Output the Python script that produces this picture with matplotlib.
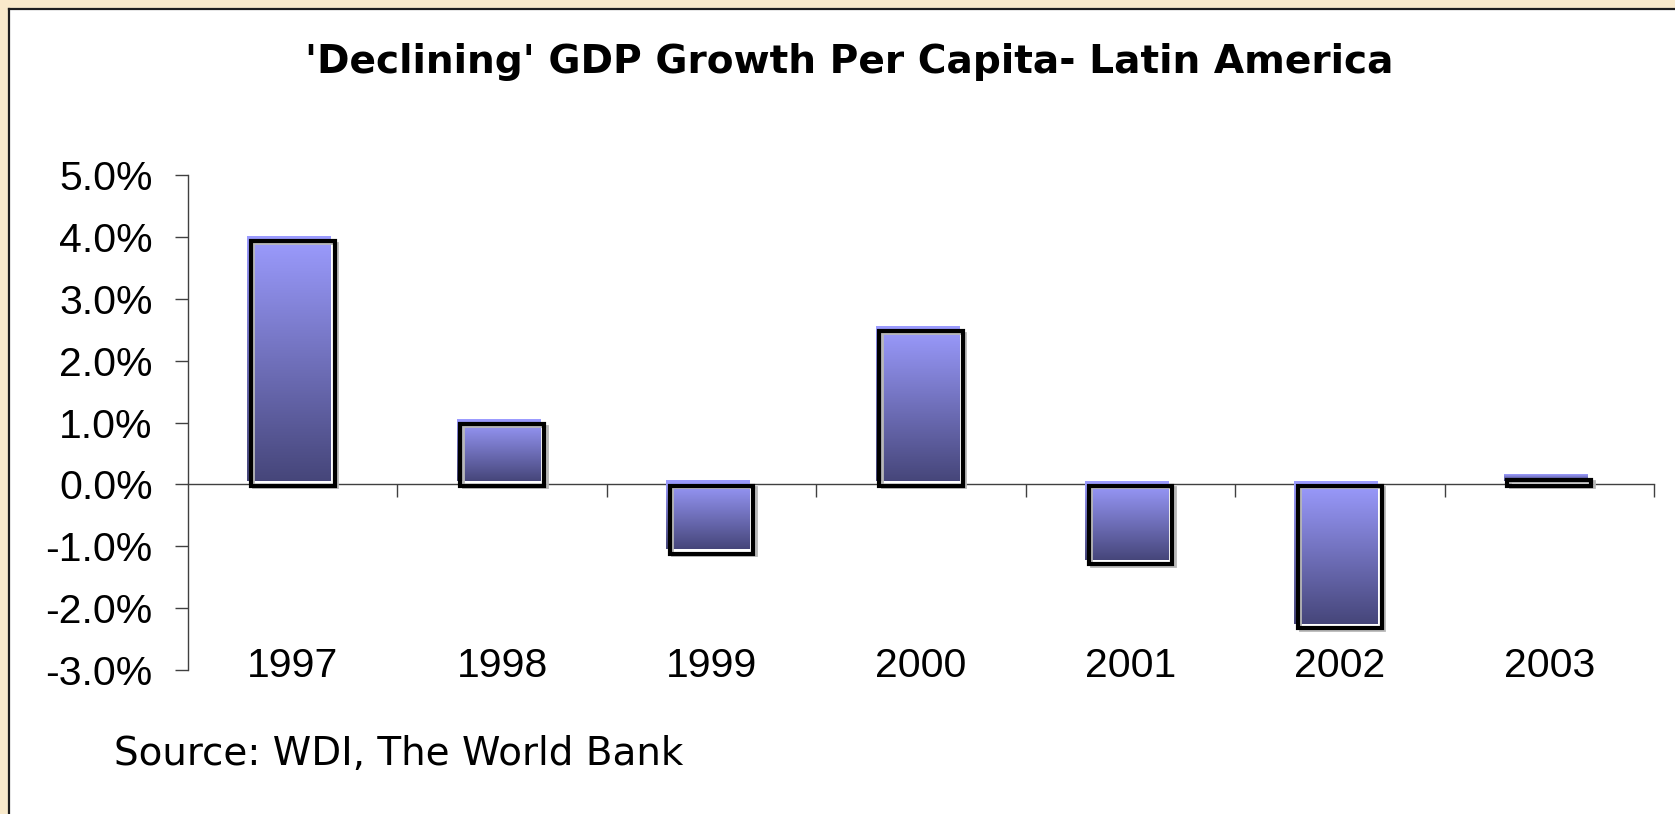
import numpy as np
import matplotlib
matplotlib.use("Agg")
import matplotlib.pyplot as plt
from matplotlib.colors import LinearSegmentedColormap
from matplotlib.patches import Rectangle
from matplotlib.lines import Line2D
from matplotlib.transforms import ScaledTranslation

# GDP growth per capita, Latin America (%)
years = ["1997", "1998", "1999", "2000", "2001", "2002", "2003"]
growth = [3.95, 1.0, -1.1, 2.5, -1.27, -2.3, 0.1]
y_ticks = [-3.0, -2.0, -1.0, 0.0, 1.0, 2.0, 3.0, 4.0, 5.0]

W, H, DPI = 1675, 814, 100
fig = plt.figure(figsize=(W / DPI, H / DPI), dpi=DPI)
fig.patch.set_facecolor("#F9EACB")

# white slide panel with a dark frame on the top and left
px = lambda x: x / W
py = lambda y: 1 - y / H
fig.patches.append(Rectangle((px(9), 0), 1.0, py(9), transform=fig.transFigure,
                             facecolor="white", edgecolor="none", zorder=-5))
fig.lines.append(Line2D([px(9), px(9)], [0, py(9)], transform=fig.transFigure,
                        color="#1e1e1e", lw=1.6, zorder=-4))
fig.lines.append(Line2D([px(9), 1], [py(9), py(9)], transform=fig.transFigure,
                        color="#1e1e1e", lw=1.6, zorder=-4))

ax_left, ax_right, ax_top, ax_bot = 188, 1654, 175, 670
ax = fig.add_axes([px(ax_left), py(ax_bot), (ax_right - ax_left) / W,
                   (ax_bot - ax_top) / H])
ax.set_facecolor("none")
ax.set_zorder(2)

cmap = LinearSegmentedColormap.from_list("bar", ["#46467A", "#9C9CFF"])
grad = np.linspace(1, 0, 256).reshape(-1, 1)

fill_shift = ax.transData + ScaledTranslation(-3.5 / DPI, 3 / DPI, fig.dpi_scale_trans)
edge_shift = ax.transData + ScaledTranslation(0, -1.5 / DPI, fig.dpi_scale_trans)
shadow_shift = ax.transData + ScaledTranslation(2.5 / DPI, -3 / DPI, fig.dpi_scale_trans)

width = 0.40
for i, v in enumerate(growth):
    x0, x1 = i - width / 2, i + width / 2
    lo, hi = min(0, v), max(0, v)
    ax.imshow(grad, extent=[x0, x1, lo, hi], aspect="auto", cmap=cmap,
              transform=fill_shift, zorder=2, interpolation="bilinear")
    ax.add_patch(Rectangle((x0, lo), width, hi - lo, facecolor="none",
                           edgecolor="#b8b8b8", lw=2.0, transform=shadow_shift,
                           zorder=2.5))
    ax.add_patch(Rectangle((x0, lo), width, hi - lo, facecolor="none",
                           edgecolor="black", lw=3.0, transform=edge_shift,
                           zorder=3, joinstyle="miter"))

ax.set_xlim(-0.5, len(years) - 0.5)
ax.set_ylim(-3, 5)

for s in ["top", "right"]:
    ax.spines[s].set_visible(False)
ax.spines["left"].set_color("#404040")
ax.spines["left"].set_linewidth(1.0)
ax.spines["bottom"].set_position(("data", 0))
ax.spines["bottom"].set_color("#404040")
ax.spines["bottom"].set_linewidth(1.0)
ax.spines["bottom"].set_zorder(1)

ax.set_yticks(y_ticks)
ax.set_yticklabels([f"{t:.1f}%" for t in y_ticks], fontfamily="Liberation Sans",
                   fontsize=29.5)
ax.tick_params(axis="y", direction="out", length=9.5, width=1.0, color="#404040",
               pad=16)
ax.set_xticks([i + 0.5 for i in range(len(years))])
ax.set_xticklabels([])
ax.tick_params(axis="x", direction="out", length=9.5, width=1.0, color="#404040")

for i, yr in enumerate(years):
    ax.text(i, -2.93, yr, ha="center", va="center", fontsize=29.5,
            fontfamily="Liberation Sans")

fig.text(px(849), py(62), "'Declining' GDP Growth Per Capita- Latin America",
         ha="center", va="center", fontsize=28.2, fontweight="bold",
         fontfamily="DejaVu Sans")
fig.text(px(114), py(754), "Source: WDI, The World Bank", ha="left",
         va="center", fontsize=28, fontfamily="DejaVu Sans")

fig.savefig("out.png", dpi=DPI, facecolor=fig.get_facecolor())
